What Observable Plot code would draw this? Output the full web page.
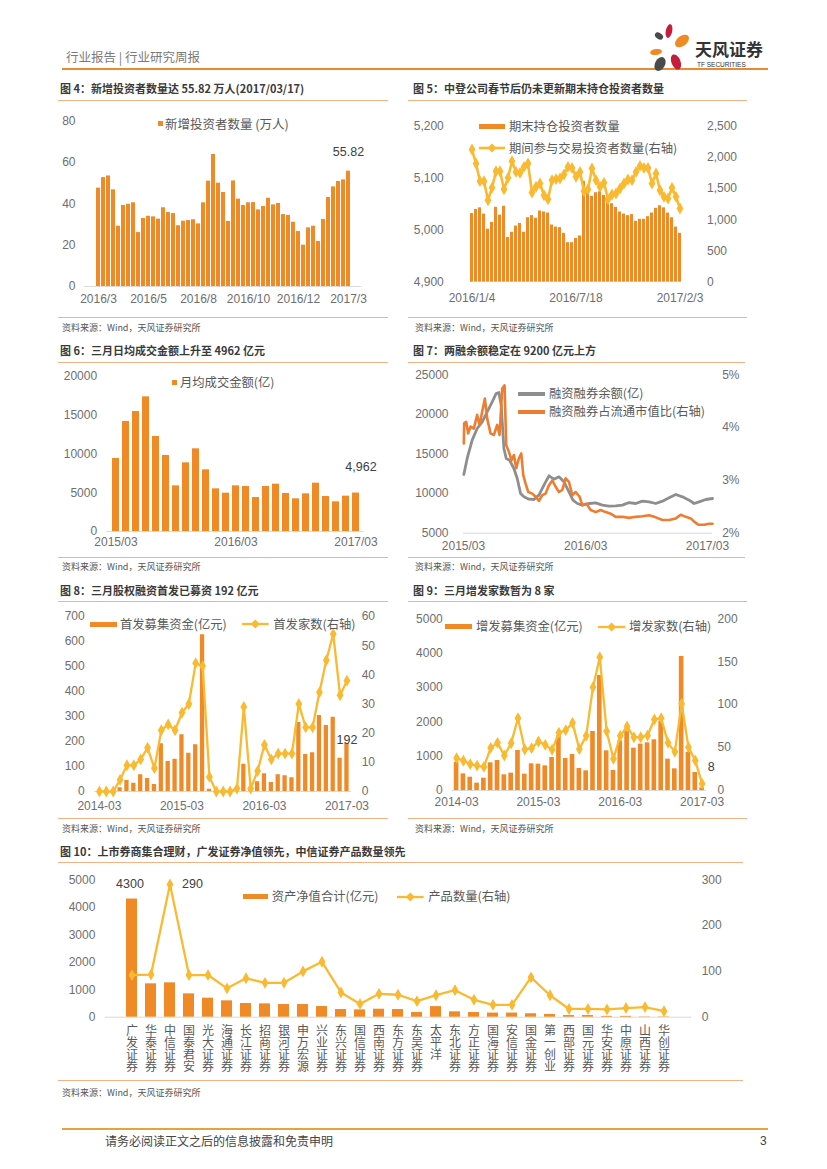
<!DOCTYPE html>
<html><head><meta charset="utf-8">
<script src="https://cdn.jsdelivr.net/npm/d3@7"></script>
<script src="https://cdn.jsdelivr.net/npm/@observablehq/plot@0.6"></script>
<style>
body{margin:0;background:#fff;}
#page{position:relative;width:827px;height:1169px;overflow:hidden;background:#fff;font-family:"Noto Sans CJK SC","Liberation Sans",sans-serif;}
</style></head>
<body><div id="page"></div>
<script>
// ---------------- DATA ----------------
// Fig 4: weekly new investors (10k)
const fig4Values = [47.6,52.7,53.5,46.8,29.2,39.2,39.8,40.5,26.1,32.9,34.0,33.7,32.6,38.1,35.8,35.3,29.4,31.6,31.9,32.3,30.3,40.5,51.0,63.9,50.0,45.5,31.5,51.1,42.3,39.2,40.5,40.6,37.1,38.7,42.7,39.5,40.2,34.8,34.4,31.1,26.6,20.0,28.4,29.2,21.8,32.4,43.1,48.2,50.8,51.6,55.82];
const fig4XTickIdx = [0,10,20,30,40,50];
const fig4XTickLabels = ["2016/3","2016/5","2016/8","2016/10","2016/12","2017/3"];
const fig4YTicks = [0,20,40,60,80];

// Fig 5: period-end holders (left) and active traders (right axis)
const fig5Bars = [5032,5040,5043,5031,5002,5015,5044,5029,5046,4986,4996,5008,5013,4996,5024,5028,5023,5037,5035,5033,5010,5006,5005,4994,4976,4976,4984,4989,5094,5080,5065,5072,5074,5067,5058,5051,5044,5035,5031,5028,5030,5017,5021,5021,5026,5033,5042,5047,5043,5033,5024,5006,4994];
const fig5Line = [2126,1902,1619,1619,1314,1512,1779,1779,1490,1672,1939,1768,1752,1848,1902,1437,1528,1581,1394,1330,1635,1651,1661,1725,1848,1832,1688,1768,1458,1490,1822,1635,1528,1592,1330,1405,1421,1501,1581,1645,1635,1768,1864,1832,1832,1581,1741,1474,1368,1341,1512,1368,1181];
const fig5XTickIdx = [0,26,52];
const fig5XTickLabels = ["2016/1/4","2016/7/18","2017/2/3"];
const fig5LeftTicks = [4900,5000,5100,5200];
const fig5RightTicks = [0,500,1000,1500,2000,2500];

// Fig 6: monthly average turnover
const fig6Values = [9419,14194,15484,17376,12258,9806,5892,8860,10667,7957,5505,4946,5892,5806,4387,5806,6108,4903,4215,4860,6237,4516,3828,4559,4962];
const fig6XTickIdx = [0,12,24];
const fig6XTickLabels = ["2015/03","2016/03","2017/03"];
const fig6YTicks = [0,5000,10000,15000,20000];

// Fig 7: margin balance (left) and ratio to float cap % (right)
const fig7GrayDates = ["2015-03-02","2015-03-12","2015-03-27","2015-04-11","2015-04-26","2015-05-11","2015-05-26","2015-06-07","2015-06-15","2015-06-22","2015-06-30","2015-07-07","2015-07-17","2015-07-30","2015-08-09","2015-08-19","2015-08-29","2015-09-13","2015-09-28","2015-10-13","2015-10-28","2015-11-12","2015-11-27","2015-12-12","2015-12-27","2016-01-11","2016-01-23","2016-02-05","2016-02-20","2016-03-11","2016-03-31","2016-04-20","2016-05-10","2016-05-30","2016-06-19","2016-07-09","2016-07-29","2016-08-18","2016-09-07","2016-09-27","2016-10-17","2016-11-06","2016-11-26","2016-12-16","2017-01-05","2017-01-20","2017-02-04","2017-02-24","2017-03-16"];
const fig7GrayValues = [12412,14433,16748,18222,19064,20327,21590,22642,22769,21169,15696,14433,14222,13170,11907,10012,9591,9297,9255,9802,11065,12244,11823,12117,11486,10223,9170,8749,8539,8749,8833,8539,8413,8455,8539,8875,8749,9044,8960,8749,9044,9465,9886,9591,9170,8749,8960,9255,9381];
const fig7OrangeDates = ["2015-03-02","2015-03-03","2015-03-09","2015-03-15","2015-03-22","2015-04-01","2015-04-11","2015-04-18","2015-04-26","2015-05-04","2015-05-11","2015-05-21","2015-05-31","2015-06-10","2015-06-17","2015-06-25","2015-07-02","2015-07-07","2015-07-15","2015-07-23","2015-07-30","2015-08-06","2015-08-14","2015-08-21","2015-08-27","2015-09-03","2015-09-11","2015-09-23","2015-10-03","2015-10-13","2015-10-23","2015-11-02","2015-11-12","2015-11-22","2015-12-02","2015-12-12","2015-12-22","2016-01-01","2016-01-11","2016-01-21","2016-01-31","2016-02-12","2016-02-20","2016-03-03","2016-03-16","2016-03-31","2016-04-15","2016-04-30","2016-05-15","2016-05-30","2016-06-19","2016-07-09","2016-07-29","2016-08-18","2016-09-07","2016-09-27","2016-10-17","2016-11-06","2016-11-26","2016-12-11","2016-12-26","2017-01-10","2017-01-20","2017-02-02","2017-02-19","2017-03-06","2017-03-16"];
const fig7OrangeValues = [3.70,4.08,4.11,3.89,4.02,3.98,4.24,4.05,4.30,4.55,4.17,3.89,3.86,4.05,3.86,4.74,4.80,3.67,3.54,3.38,3.48,3.23,3.42,3.51,3.10,2.94,2.78,2.75,2.69,2.61,2.72,2.75,2.91,3.00,2.88,2.78,2.82,3.04,2.97,2.72,2.78,2.69,2.53,2.56,2.44,2.40,2.44,2.40,2.37,2.31,2.31,2.29,2.31,2.32,2.34,2.30,2.25,2.25,2.28,2.35,2.31,2.28,2.22,2.16,2.16,2.18,2.18];
const fig7XTicks = ["2015-03-01","2016-03-01","2017-03-01"];
const fig7LeftTicks = [5000,10000,15000,20000,25000];
const fig7RightTicks = [2,3,4,5];

// Fig 8 / Fig 9: monthly IPO and follow-on offerings
const months = ["2014-03","2014-04","2014-05","2014-06","2014-07","2014-08","2014-09","2014-10","2014-11","2014-12","2015-01","2015-02","2015-03","2015-04","2015-05","2015-06","2015-07","2015-08","2015-09","2015-10","2015-11","2015-12","2016-01","2016-02","2016-03","2016-04","2016-05","2016-06","2016-07","2016-08","2016-09","2016-10","2016-11","2016-12","2017-01","2017-02","2017-03"];
const monthTicks = ["2014-03","2015-03","2016-03","2017-03"];
const fig8Funds = [0,0,0,15,44,33,67,52,28,191,120,129,227,153,187,627,9,0,0,0,0,109,3,39,71,36,67,63,55,276,148,155,304,264,297,133,192];
const fig8Count = [0,0,0,4,9,9,11,15,8,21,23,21,27,30,44,43,5,0,0,0,1,29,1,7,16,11,13,13,13,30,22,22,34,45,54,33,38];
const fig8LeftTicks = [0,100,200,300,400,500,600,700];
const fig8RightTicks = [0,10,20,30,40,50,60];
const fig9Funds = [825,485,388,214,359,806,874,456,505,1165,476,777,767,718,961,1592,932,1049,641,573,1718,3350,1155,583,1447,1728,1233,1350,1388,1476,2019,913,631,3903,1117,524,78];
const fig9Count = [37.7,34.6,30.7,29,27.5,49.7,55.5,40.8,55.1,84.3,47.8,49.3,57.1,53.2,47.4,67.2,70.3,78.8,48.2,63.7,120.4,155.3,69.1,36.9,63.7,74.6,62.1,62.1,64.1,82.7,84.3,55.5,45,101,50.5,35,8];
const fig9LeftTicks = [0,1000,2000,3000,4000,5000];
const fig9RightTicks = [0,50,100,150,200];

// Fig 10: brokers' collective wealth management
const fig10Brokers = ["广发证券","华泰证券","中信证券","国泰君安","光大证券","海通证券","长江证券","招商证券","银河证券","申万宏源","兴业证券","东兴证券","国信证券","西南证券","东方证券","东吴证券","太平洋","东北证券","方正证券","国海证券","安信证券","国金证券","第一创业","西部证券","国元证券","华安证券","中原证券","山西证券","华创证券"];
const fig10NetValue = [4300,1214,1250,850,692,595,498,485,461,461,388,279,267,291,279,170,385,195,170,150,150,125,100,60,60,30,30,12,12];
const fig10Products = [92,93,290,92,92,63,85,75,75,100,121,54,29,51,49,35,48,59,38,27,27,87,48,18,18,17,20,22,13];
const fig10LeftTicks = [0,1000,2000,3000,4000,5000];
const fig10RightTicks = [0,100,200,300];

// ---------------- STYLE / HELPERS ----------------
const FONT = '"Liberation Sans","Noto Sans CJK SC",sans-serif';
const CJK = '"Noto Sans CJK SC",sans-serif';
const ORANGE = "#EF8A27";
const YELLOW = "#F9BA32";
const GRID = "#D9D9D9";
const TXT = "#6e6e6e";
const RULE = "#F4B183";
const plain = d => String(d);
const page = document.getElementById("page");
const plotStyle = {fontSize: "12px", fontFamily: FONT, color: TXT, background: "transparent", overflow: "visible"};

function put(el, left, top) {
  el.style.position = "absolute"; el.style.left = left + "px"; el.style.top = top + "px";
  page.appendChild(el); return el;
}
function txt(text, x, yc, size, o = {}) {
  const d = document.createElement("div");
  d.textContent = text;
  d.style.cssText = `position:absolute;white-space:nowrap;left:${x}px;top:${yc - size * 0.7}px;font-size:${size}px;line-height:${size * 1.4}px;color:${o.color || "#595959"};font-weight:${o.bold ? "bold" : "normal"};font-family:${o.font || CJK};`;
  page.appendChild(d); return d;
}
function box(x, y, w, h, color) {
  const d = document.createElement("div");
  d.style.cssText = `position:absolute;left:${x}px;top:${y}px;width:${w}px;height:${h}px;background:${color};`;
  page.appendChild(d); return d;
}
function lineSwatch(x1, x2, y, color, width, diamond) {
  const svg = d3.create("svg").attr("width", x2 - x1 + 10).attr("height", 14)
    .style("position", "absolute").style("left", (x1 - 5) + "px").style("top", (y - 7) + "px");
  svg.append("line").attr("x1", 5).attr("x2", x2 - x1 + 5).attr("y1", 7).attr("y2", 7)
    .attr("stroke", color).attr("stroke-width", width);
  if (diamond) {
    const c = (x2 - x1) / 2 + 5;
    svg.append("path").attr("d", `M${c},2.5L${c + 4.5},7L${c},11.5L${c - 4.5},7Z`).attr("fill", color);
  }
  page.appendChild(svg.node());
}
function section(title, x, yTitle, ruleX1, ruleX2, ruleTop, ruleBottom, srcY) {
  txt(title, x, yTitle, 11, {bold: true, color: "#3a3a3a"});
  box(ruleX1, ruleTop, ruleX2 - ruleX1, 1, RULE);
  box(ruleX1, ruleBottom, ruleX2 - ruleX1, 1.2, RULE);
  txt("资料来源：Wind，天风证券研究所", x + 2, srcY, 9, {color: "#555"});
}

// ---------------- HEADER / FOOTER ----------------
txt("行业报告 | 行业研究周报", 66, 57, 12.5, {color: "#7a7a7a"});
box(62, 68, 706, 1.6, "#EA8A2E");
const logo = d3.create("svg").attr("width", 52).attr("height", 52).style("position", "absolute").style("left", "644px").style("top", "22px");
[["#4a4a4a", 15, 14, 4.5, 3, 35], ["#C41E3A", 25, 9, 3.2, 7, 12], ["#F08A24", 38, 19, 8, 5, -38],
 ["#F08A24", 12, 30, 6, 3, -8], ["#4a4a4a", 16, 42, 5, 7.5, 28], ["#C41E3A", 32, 40, 4.5, 8, -22]]
  .forEach(([c, cx, cy, rx, ry, rot]) => logo.append("ellipse").attr("cx", cx).attr("cy", cy).attr("rx", rx).attr("ry", ry)
    .attr("fill", c).attr("transform", `rotate(${rot} ${cx} ${cy})`));
page.appendChild(logo.node());
txt("天风证券", 695, 49, 17, {bold: true, color: "#333"});
txt("TF SECURITIES", 697, 65, 6.5, {color: "#333", font: FONT});
box(62, 1128, 706, 2, "#E9A23B");
txt("请务必阅读正文之后的信息披露和免责申明", 105, 1141, 12, {color: "#444"});
txt("3", 760, 1141, 12, {color: "#444", font: FONT});

// ---------------- SECTIONS ----------------
section("图 4：新增投资者数量达 55.82 万人(2017/03/17)", 60, 89, 58, 388, 100, 317, 328);
section("图 5：中登公司春节后仍未更新期末持仓投资者数量", 413, 89, 408, 747, 100, 317, 328);
section("图 6：三月日均成交金额上升至 4962 亿元", 60, 351, 58, 388, 362, 557, 567);
section("图 7：两融余额稳定在 9200 亿元上方", 413, 351, 408, 745, 362, 557, 567);
section("图 8：三月股权融资首发已募资 192 亿元", 60, 591, 58, 388, 601, 818, 829);
section("图 9：三月增发家数暂为 8 家", 413, 591, 408, 747, 601, 818, 829);
section("图 10：上市券商集合理财，广发证券净值领先，中信证券产品数量领先", 60, 852, 58, 743, 862, 1080, 1093);

// ---------------- FIG 4 ----------------
{
  const data = fig4Values.map((v, i) => ({i, v}));
  const last = data[data.length - 1];
  const c = Plot.plot({
    width: 345, height: 210, marginTop: 15.7, marginBottom: 29, marginLeft: 29, marginRight: 38.6,
    style: plotStyle,
    x: {type: "band", domain: d3.range(data.length), padding: 0.26, axis: null},
    y: {domain: [0, 80], axis: null},
    marks: [
      Plot.ruleY([0], {stroke: GRID}),
      Plot.barY(data, {x: "i", y: "v", fill: ORANGE}),
      Plot.axisY(fig4YTicks, {tickSize: 0, tickPadding: 9, label: null, tickFormat: plain}),
      Plot.axisX(fig4XTickIdx, {tickSize: 0, tickPadding: 8, label: null, tickFormat: i => fig4XTickLabels[fig4XTickIdx.indexOf(i)]}),
      Plot.text([last], {x: "i", y: "v", text: d => d.v.toFixed(2), dy: -19, fill: "#404040", fontSize: 12.5})
    ]
  });
  put(c, 55, 105);
  box(157.5, 120.8, 5, 5, ORANGE);
  txt("新增投资者数量 (万人)", 165, 123.3, 12.5);
}

// ---------------- FIG 5 ----------------
{
  const data = fig5Bars.map((v, i) => ({i, bar: v, line: fig5Line[i]}));
  const toL = v => 4900 + v * 300 / 2500;
  const toR = y => Math.round((y - 4900) * 2500 / 300);
  const c = Plot.plot({
    width: 370, height: 210, marginTop: 20.7, marginBottom: 33.3, marginLeft: 51, marginRight: 80.5,
    style: plotStyle,
    x: {type: "band", domain: d3.range(data.length), padding: 0.33, axis: null},
    y: {domain: [4900, 5200], axis: null},
    marks: [
      Plot.barY(data, {x: "i", y1: 4900, y2: "bar", fill: ORANGE}),
      Plot.line(data, {x: "i", y: d => toL(d.line), stroke: YELLOW, strokeWidth: 2.6}),
      Plot.dot(data, {x: "i", y: d => toL(d.line), symbol: "diamond", r: 3.6, fill: YELLOW}),
      Plot.axisY(fig5LeftTicks, {tickSize: 0, tickPadding: 12.7, label: null, tickFormat: d3.format(",")}),
      Plot.axisY(fig5RightTicks.map(toL), {anchor: "right", tickSize: 0, tickPadding: 12, label: null, tickFormat: y => d3.format(",")(toR(y))}),
      Plot.axisX(fig5XTickIdx, {tickSize: 0, tickPadding: 11, label: null, tickFormat: i => fig5XTickLabels[fig5XTickIdx.indexOf(i)]})
    ]
  });
  put(c, 405, 105);
  box(479, 124.3, 26, 5, ORANGE);
  txt("期末持仓投资者数量", 509, 126.7, 12.3);
  lineSwatch(479, 505, 148.3, YELLOW, 2.6, true);
  txt("期间参与交易投资者数量(右轴)", 509, 148.3, 12.3);
}

// ---------------- FIG 6 ----------------
{
  const data = fig6Values.map((v, i) => ({i, v}));
  const last = data[data.length - 1];
  const c = Plot.plot({
    width: 345, height: 190, marginTop: 11, marginBottom: 24, marginLeft: 51.6, marginRight: 36.5,
    style: plotStyle,
    x: {type: "band", domain: d3.range(data.length), padding: 0.35, axis: null},
    y: {domain: [0, 20000], axis: null},
    marks: [
      Plot.ruleY([0], {stroke: GRID}),
      Plot.barY(data, {x: "i", y: "v", fill: ORANGE}),
      Plot.axisY(fig6YTicks, {tickSize: 0, tickPadding: 10, label: null, tickFormat: plain}),
      Plot.axisX(fig6XTickIdx, {tickSize: 0, tickPadding: 6, label: null, tickFormat: i => fig6XTickLabels[fig6XTickIdx.indexOf(i)]}),
      Plot.text([last], {x: "i", y: "v", text: d => d3.format(",")(d.v), dx: 5, dy: -26.5, fill: "#404040", fontSize: 12.5})
    ]
  });
  put(c, 55, 365);
  box(171.7, 379.8, 5, 5, ORANGE);
  txt("月均成交金额(亿)", 180, 382.3, 12.3);
}

// ---------------- FIG 7 ----------------
{
  const gray = fig7GrayDates.map((d, i) => ({date: new Date(d), v: fig7GrayValues[i]}));
  const orange = fig7OrangeDates.map((d, i) => ({date: new Date(d), p: fig7OrangeValues[i]}));
  const toL = p => 5000 + (p - 2) * 20000 / 3;
  const c = Plot.plot({
    width: 370, height: 190, marginTop: 9.3, marginBottom: 22.3, marginLeft: 58, marginRight: 63,
    style: plotStyle,
    x: {type: "utc", domain: [new Date("2015-03-01"), new Date("2017-03-16")], axis: null},
    y: {domain: [5000, 25000], axis: null},
    marks: [
      Plot.ruleY([5000], {stroke: GRID}),
      Plot.line(gray, {x: "date", y: "v", stroke: "#8E8E8E", strokeWidth: 2.8}),
      Plot.line(orange, {x: "date", y: d => toL(d.p), stroke: "#ED7D31", strokeWidth: 2.6}),
      Plot.axisY(fig7LeftTicks, {tickSize: 0, tickPadding: 15, label: null, tickFormat: plain}),
      Plot.axisY(fig7RightTicks.map(toL), {anchor: "right", tickSize: 0, tickPadding: 9.7, label: null, tickFormat: y => Math.round(2 + (y - 5000) * 3 / 20000) + "%"}),
      Plot.axisX(fig7XTicks.map(d => new Date(d)), {tickSize: 0, tickPadding: 8, label: null, tickFormat: d3.utcFormat("%Y/%m")})
    ]
  });
  put(c, 405, 365);
  lineSwatch(518, 545, 394, "#8E8E8E", 4, false);
  txt("融资融券余额(亿)", 549, 394, 12.3);
  lineSwatch(518, 545, 411.7, "#ED7D31", 4, false);
  txt("融资融券占流通市值比(右轴)", 549, 411.7, 12.3);
}

// ---------------- FIG 8 ----------------
{
  const data = months.map((m, i) => ({m, f: fig8Funds[i], n: fig8Count[i]}));
  const toL = v => v * 700 / 60;
  const last = data[data.length - 1];
  const c = Plot.plot({
    width: 345, height: 210, marginTop: 11, marginBottom: 24, marginLeft: 39.2, marginRight: 48.8,
    style: plotStyle,
    x: {type: "band", domain: months, padding: 0.38, axis: null},
    y: {domain: [0, 700], axis: null},
    marks: [
      Plot.ruleY([0], {stroke: GRID}),
      Plot.barY(data, {x: "m", y: "f", fill: ORANGE}),
      Plot.line(data, {x: "m", y: d => toL(d.n), stroke: YELLOW, strokeWidth: 2.3}),
      Plot.dot(data, {x: "m", y: d => toL(d.n), symbol: "diamond", r: 3.6, fill: YELLOW}),
      Plot.axisY(fig8LeftTicks, {tickSize: 0, tickPadding: 10, label: null, tickFormat: plain}),
      Plot.axisY(fig8RightTicks.map(toL), {anchor: "right", tickSize: 0, tickPadding: 10, label: null, tickFormat: y => Math.round(y * 60 / 700)}),
      Plot.axisX(monthTicks, {tickSize: 0, tickPadding: 10, label: null}),
      Plot.text([last], {x: "m", y: "f", text: d => String(d.f), dy: -4, fill: "#404040", fontSize: 12.5})
    ]
  });
  put(c, 55, 605);
  box(90, 621.8, 26.7, 5, ORANGE);
  txt("首发募集资金(亿元)", 120, 624.3, 12.3);
  lineSwatch(241.7, 268.3, 624.3, YELLOW, 2.3, true);
  txt("首发家数(右轴)", 273.3, 624.3, 12.3);
}

// ---------------- FIG 9 ----------------
{
  const data = months.map((m, i) => ({m, f: fig9Funds[i], n: fig9Count[i]}));
  const toL = v => v * 5000 / 200;
  const last = data[data.length - 1];
  const c = Plot.plot({
    width: 370, height: 210, marginTop: 13.3, marginBottom: 25, marginLeft: 46.6, marginRight: 68.9,
    style: plotStyle,
    x: {type: "band", domain: months, padding: 0.32, axis: null},
    y: {domain: [0, 5000], axis: null},
    marks: [
      Plot.ruleY([0], {stroke: GRID}),
      Plot.barY(data, {x: "m", y: "f", fill: ORANGE}),
      Plot.line(data, {x: "m", y: d => toL(d.n), stroke: YELLOW, strokeWidth: 2.3}),
      Plot.dot(data, {x: "m", y: d => toL(d.n), symbol: "diamond", r: 3.6, fill: YELLOW}),
      Plot.axisY(fig9LeftTicks, {tickSize: 0, tickPadding: 9.3, label: null, tickFormat: plain}),
      Plot.axisY(fig9RightTicks.map(toL), {anchor: "right", tickSize: 0, tickPadding: 11, label: null, tickFormat: y => Math.round(y * 200 / 5000)}),
      Plot.axisX(monthTicks, {tickSize: 0, tickPadding: 7, label: null}),
      Plot.text([last], {x: "m", y: d => toL(d.n), text: d => String(d.n), dx: 9, dy: -17, fill: "#404040", fontSize: 12.5})
    ]
  });
  put(c, 405, 605);
  box(445, 624.2, 26.7, 5, ORANGE);
  txt("增发募集资金(亿元)", 476, 626.7, 12.3);
  lineSwatch(597.7, 625, 626.7, YELLOW, 2.3, true);
  txt("增发家数(右轴)", 629, 626.7, 12.3);
}

// ---------------- FIG 10 ----------------
{
  const data = fig10Brokers.map((b, i) => ({b, v: fig10NetValue[i], n: fig10Products[i]}));
  const toL = v => v * 5000 / 300;
  const maxV = data.reduce((a, d) => d.v > a.v ? d : a);
  const maxN = data.reduce((a, d) => d.n > a.n ? d : a);
  const c = Plot.plot({
    width: 720, height: 215, marginTop: 14.3, marginBottom: 63.3, marginLeft: 49.9, marginRight: 83.8,
    style: plotStyle,
    x: {type: "band", domain: fig10Brokers, padding: 0.4, axis: null},
    y: {domain: [0, 5000], axis: null},
    marks: [
      Plot.ruleY([0], {stroke: GRID}),
      Plot.barY(data, {x: "b", y: "v", fill: ORANGE}),
      Plot.line(data, {x: "b", y: d => toL(d.n), stroke: YELLOW, strokeWidth: 2.3}),
      Plot.dot(data, {x: "b", y: d => toL(d.n), symbol: "diamond", r: 3.6, fill: YELLOW}),
      Plot.axisY(fig10LeftTicks, {tickSize: 0, tickPadding: 10, label: null, tickFormat: plain}),
      Plot.axisY(fig10RightTicks.map(toL), {anchor: "right", tickSize: 0, tickPadding: 10, label: null, tickFormat: y => Math.round(y * 300 / 5000)}),
      Plot.text(data, {x: "b", y: 0, text: d => d.b.split("").join("\n"), lineAnchor: "top", dy: 9, lineHeight: 1, fontSize: 12, fontFamily: CJK, fill: "#595959"}),
      Plot.text([maxV], {x: "b", y: "v", text: d => String(d.v), dx: -2, dy: -15.5, fill: "#404040", fontSize: 12.5}),
      Plot.text([maxN], {x: "b", y: d => toL(d.n), text: d => String(d.n), textAnchor: "start", dx: 12, fill: "#404040", fontSize: 12.5})
    ]
  });
  put(c, 55, 865);
  box(243.3, 894.2, 25, 5, ORANGE);
  txt("资产净值合计(亿元)", 271.7, 896.7, 12.3);
  lineSwatch(396.7, 423.3, 896.7, YELLOW, 2.3, true);
  txt("产品数量(右轴)", 428.3, 896.7, 12.3);
}
</script></body></html>
